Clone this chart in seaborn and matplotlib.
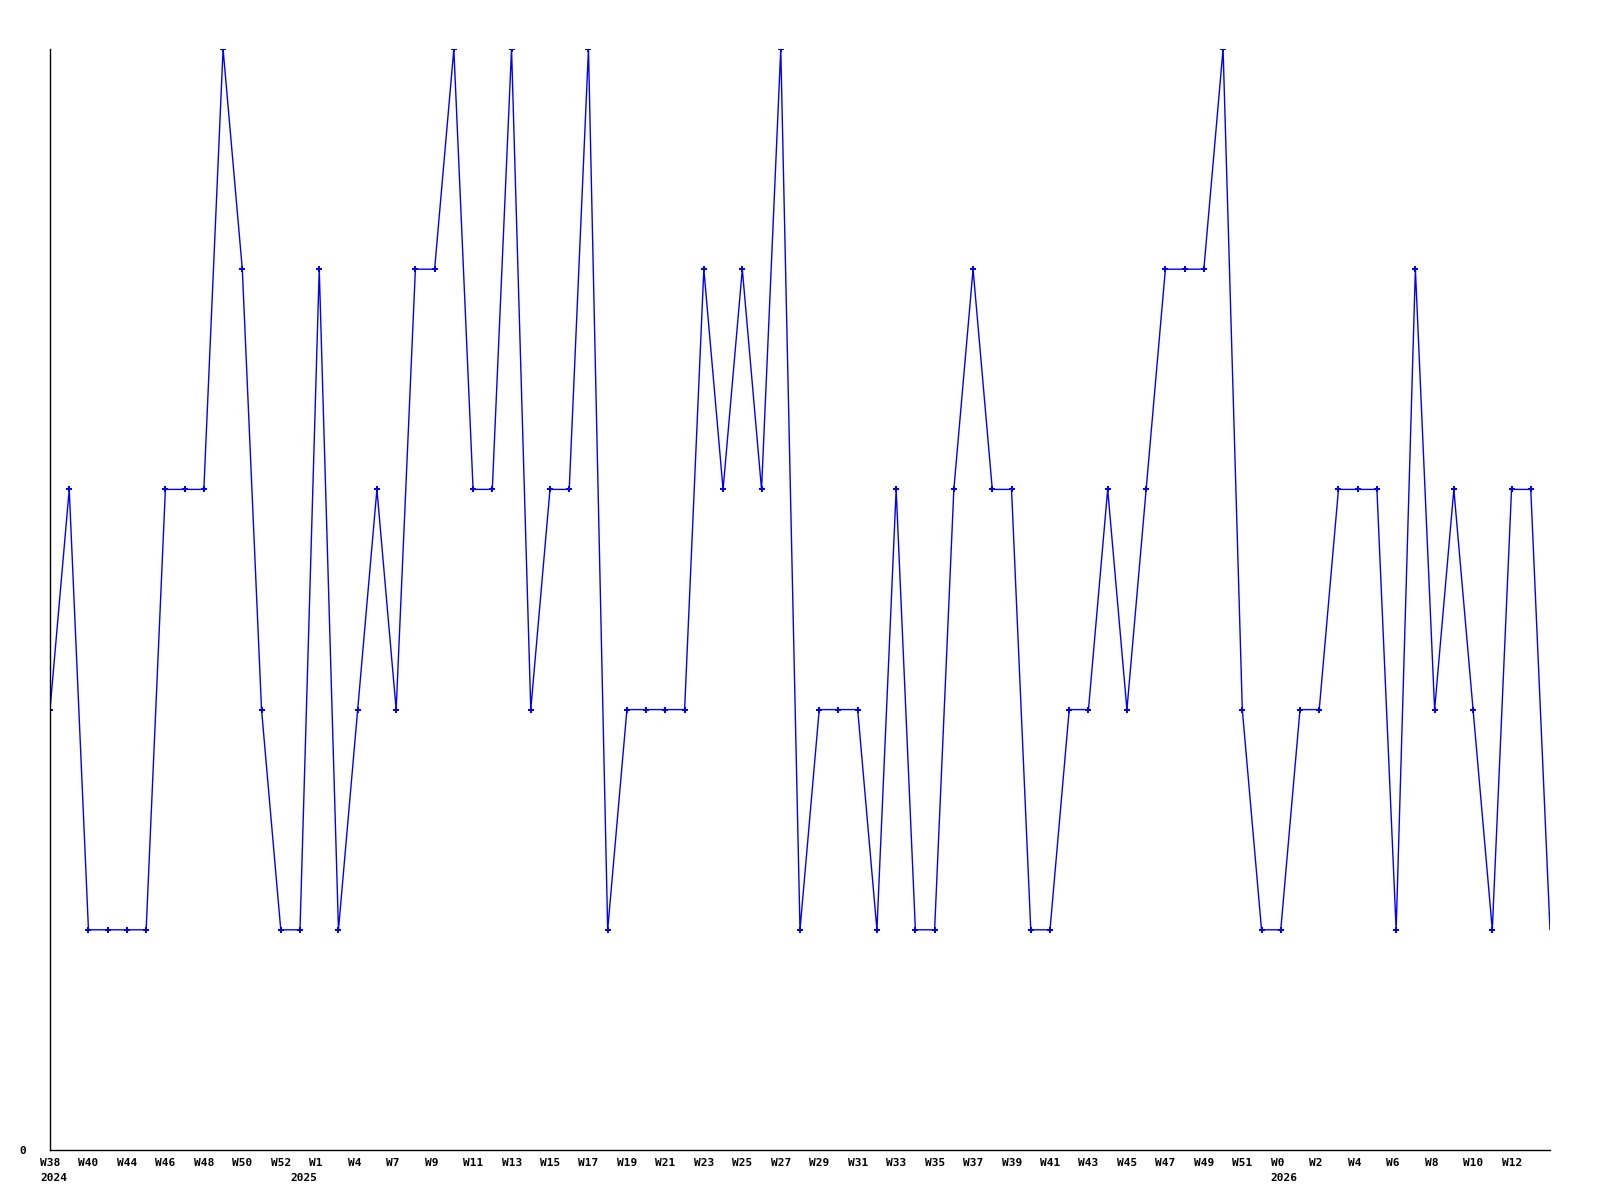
import numpy as np
import pandas as pd
import matplotlib
matplotlib.use("Agg")
import matplotlib.pyplot as plt
import matplotlib.transforms as mtransforms
import seaborn as sns

# weekly counts (79 points, one per step)
values = [2, 3, 1, 1, 1, 1, 3, 3, 3, 5,
          4, 2, 1, 1, 4, 1, 2, 3, 2, 4,
          4, 5, 3, 3, 5, 2, 3, 3, 5, 1,
          2, 2, 2, 2, 4, 3, 4, 3, 5, 1,
          2, 2, 2, 1, 3, 1, 1, 3, 4, 3,
          3, 1, 1, 2, 2, 3, 2, 3, 4, 4,
          4, 5, 2, 1, 1, 2, 2, 3, 3, 3,
          1, 4, 2, 3, 2, 1, 3, 3, 1]

# labels on every second point
week_labels = ["W38", "W40", "W44", "W46", "W48", "W50", "W52", "W1", "W4", "W7",
               "W9", "W11", "W13", "W15", "W17", "W19", "W21", "W23", "W25", "W27",
               "W29", "W31", "W33", "W35", "W37", "W39", "W41", "W43", "W45", "W47",
               "W49", "W51", "W0", "W2", "W4", "W6", "W8", "W10", "W12"]
year_pos = [0, 13, 64]
year_labels = ["2024", "2025", "2026"]

df = pd.DataFrame({"idx": np.arange(len(values)), "count": values})

sns.set_style("white")
plt.rcParams["font.family"] = ["DejaVu Sans Mono"]
plt.rcParams["text.color"] = "black"
plt.rcParams["ytick.color"] = "black"

fig = plt.figure(figsize=(16, 12), dpi=100)
ax = fig.add_axes([50 / 1600, 1 - 1150 / 1200, 1500 / 1600, 1101 / 1200])

sns.lineplot(data=df, x="idx", y="count", ax=ax, color="#0000ff", linewidth=1.0,
             marker="P", markersize=4, markeredgewidth=0, markevery=list(range(len(values) - 1)))

ax.set_xlim(0, len(values) - 1)
ax.set_ylim(0, 5)
ax.set_xlabel("")
ax.set_ylabel("")

# tick labels drawn as text: left edge 10px before the point
ax.set_xticks([])
base = mtransforms.blended_transform_factory(ax.transData, ax.transAxes)
for i, w in enumerate(week_labels):
    ax.text(2 * i, 0, w, transform=base + mtransforms.ScaledTranslation(-10 / 100, -8 / 100, fig.dpi_scale_trans),
            ha="left", va="top", fontsize=8, fontweight="bold", color="black", clip_on=False)
for p, y in zip(year_pos, year_labels):
    ax.text(p, 0, y, transform=base + mtransforms.ScaledTranslation(-10 / 100, -23 / 100, fig.dpi_scale_trans),
            ha="left", va="top", fontsize=8, fontweight="bold", color="black", clip_on=False)

ax.set_yticks([0])
ax.set_yticklabels(["0"], fontsize=8, fontweight="bold", color="black")
ax.tick_params(axis="y", length=0, pad=17)

for s in ["top", "right"]:
    ax.spines[s].set_visible(False)
for s in ["left", "bottom"]:
    ax.spines[s].set_color("black")
    ax.spines[s].set_linewidth(1.0)

fig.savefig("out.png", dpi=100)
